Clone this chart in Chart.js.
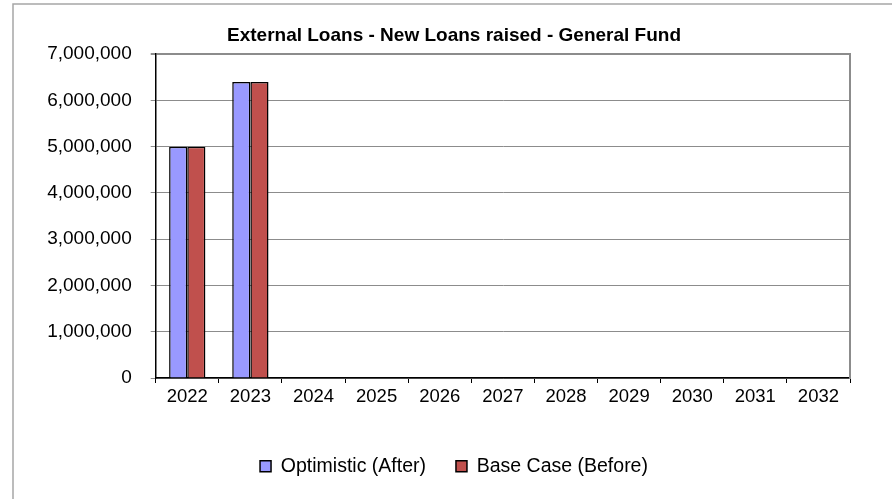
<!DOCTYPE html>
<html>
<head>
<meta charset="utf-8">
<title>External Loans - New Loans raised - General Fund</title>
<script src="https://cdn.jsdelivr.net/npm/chart.js@4"></script>
<style>
  html, body { margin: 0; padding: 0; background: #ffffff; overflow: hidden; }
  #wrap { position: relative; width: 892px; height: 499px; }
</style>
</head>
<body>
<div id="wrap"><canvas id="chart" width="892" height="499"></canvas></div>
<script>
// Financial years on the category axis
const years = ['2022', '2023', '2024', '2025', '2026', '2027', '2028', '2029', '2030', '2031', '2032'];

// New loans raised per year (General Fund)
const optimisticAfter = [5000000, 6400000, 0, 0, 0, 0, 0, 0, 0, 0, 0];
const baseCaseBefore  = [5000000, 6400000, 0, 0, 0, 0, 0, 0, 0, 0, 0];

// Value axis ticks
const yTicks = [0, 1000000, 2000000, 3000000, 4000000, 5000000, 6000000, 7000000];

const FONT = "'Liberation Sans', Arial, Helvetica, sans-serif";

// Light frame around the whole chart object
const frame = {
  id: 'frame',
  beforeDraw(chart) {
    const ctx = chart.ctx;
    ctx.save();
    ctx.fillStyle = '#ffffff';
    ctx.fillRect(0, 0, chart.width, chart.height);
    ctx.strokeStyle = '#a6a6a6';
    ctx.lineWidth = 1.5;
    ctx.strokeRect(13, 4, chart.width + 20, chart.height + 20);
    ctx.restore();
  }
};

new Chart(document.getElementById('chart'), {
  type: 'bar',
  data: {
    labels: years,
    datasets: [
      {
        label: 'Optimistic (After)',
        data: optimisticAfter,
        backgroundColor: '#9999ff',
        borderColor: '#000000',
        borderWidth: 1.5
      },
      {
        label: 'Base Case (Before)',
        data: baseCaseBefore,
        backgroundColor: '#c0504d',
        borderColor: '#000000',
        borderWidth: 1.5
      }
    ]
  },
  options: {
    responsive: false,
    animation: false,
    devicePixelRatio: 1,
    layout: { padding: { left: 16, right: 0, top: 0, bottom: 13 } },
    datasets: { bar: { categoryPercentage: 0.575, barPercentage: 1.0 } },
    scales: {
      x: {
        afterFit(scale) { scale.height = 48.5; },
        grid: {
          display: true,
          drawOnChartArea: false,
          offset: true,
          tickLength: 5,
          color: '#000000',
          lineWidth: 1
        },
        border: { display: true, color: '#000000', width: 1.5 },
        ticks: {
          color: '#000000',
          padding: 3,
          maxRotation: 0,
          font: { family: FONT, size: 18.5 }
        }
      },
      y: {
        min: 0,
        max: 7000000,
        afterFit(scale) { scale.width = 139.7; },
        afterBuildTicks(scale) { scale.ticks = yTicks.map(v => ({ value: v })); },
        grid: {
          color: '#8c8c8c',
          lineWidth: (c) => (c.tick && c.tick.value === 7000000 ? 2 : 1),
          tickLength: 5
        },
        border: { display: true, color: '#000000', width: 1.5 },
        ticks: {
          color: '#000000',
          padding: 19,
          font: { family: FONT, size: 19 },
          callback: (v) => Number(v).toLocaleString('en-US')
        }
      },
      yRight: {
        position: 'right',
        min: 0,
        max: 7000000,
        afterFit(scale) { scale.width = 42; },
        grid: { display: false, drawTicks: false },
        border: { display: true, color: '#8c8c8c', width: 2 },
        ticks: { display: false }
      }
    },
    plugins: {
      title: {
        display: true,
        text: 'External Loans - New Loans raised - General Fund',
        color: '#000000',
        font: { family: FONT, size: 19, weight: 'bold', lineHeight: 1.2 },
        padding: { top: 24, bottom: 7.4 }
      },
      legend: {
        position: 'bottom',
        labels: {
          color: '#000000',
          boxWidth: 11,
          boxHeight: 11,
          padding: 30,
          font: { family: FONT, size: 19.5 }
        }
      },
      tooltip: { enabled: false }
    }
  },
  plugins: [frame]
});
</script>
</body>
</html>
